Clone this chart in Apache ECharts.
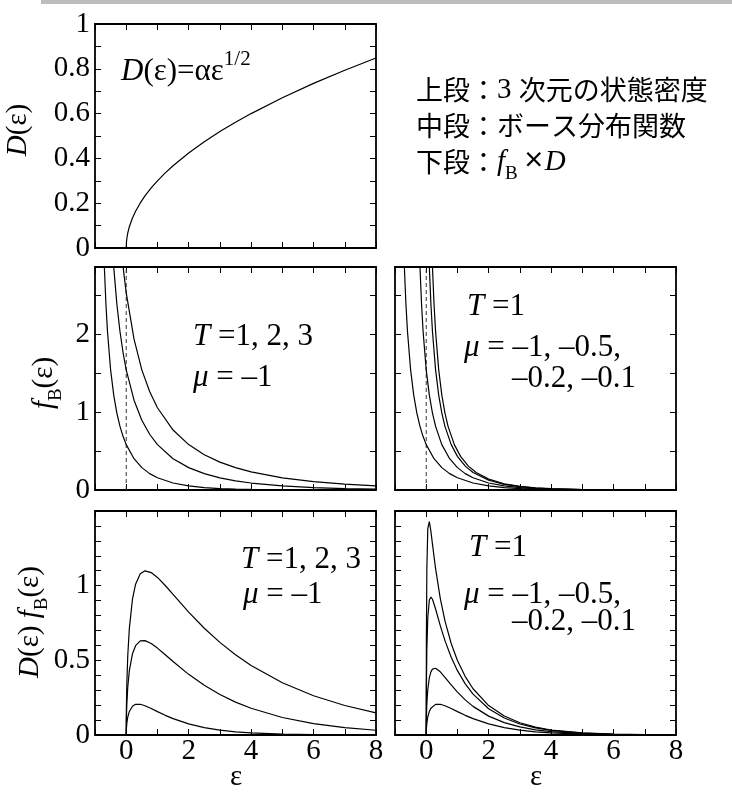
<!DOCTYPE html>
<html><head><meta charset="utf-8">
<script src="https://cdn.jsdelivr.net/npm/echarts@6/dist/echarts.min.js"></script>
<style>html,body{margin:0;padding:0;background:#fff}#c{width:732px;height:792px}</style>
</head><body><div id="c"></div>
<script>
// ---------- data ----------
// top panel: D(eps)
const epsTop = [0,0.005,0.02,0.05,0.1,0.2,0.3,0.45,0.6,0.8,1,1.25,1.5,2,2.5,3,3.5,4,5,6,7,8];
const densityD = [0,0.0212,0.0424,0.0671,0.0949,0.1342,0.1643,0.2012,0.2324,0.2683,0.3,0.3354,0.3674,0.4243,0.4743,0.5196,0.5612,0.6,0.6708,0.7348,0.7937,0.8485];

// middle-left: f_B, mu = -1, T = 1, 2, 3
const epsMid = [-0.9,-0.8,-0.75,-0.7,-0.65,-0.6,-0.5,-0.4,-0.3,-0.2,-0.1,0,0.25,0.5,0.75,1,1.5,2,2.5,3,3.5,4,5,6,7,8];
const fT1 = [9.508,4.517,3.521,2.858,2.386,2.033,1.541,1.216,0.986,0.816,0.685,0.582,0.4015,0.2872,0.2103,0.1565,0.0894,0.0524,0.0311,0.01866,0.01123,0.00678,0.00248,0.00091,0.000336,0.000123];
const fT2 = [19.50,9.508,7.510,6.179,5.229,4.517,3.521,2.858,2.386,2.033,1.760,1.541,1.1516,0.8953,0.7149,0.582,0.4015,0.2872,0.2103,0.1565,0.1178,0.0894,0.0524,0.0311,0.01866,0.01123];
const fT3 = [29.50,14.51,11.507,9.508,8.081,7.011,5.514,4.517,3.805,3.273,2.858,2.528,1.934,1.541,1.2626,1.0552,0.7687,0.582,0.4522,0.3580,0.2872,0.2329,0.1565,0.1074,0.0747,0.0524];

// middle-right: f_B, T = 1, mu = -1 (fT1 above), -0.5, -0.2, -0.1
const epsMu05 = [-0.45,-0.4,-0.35,-0.3,-0.25,-0.2,-0.15,-0.1,0,0.1,0.2,0.3,0.5,0.75,1,1.25,1.5,2,2.5,3,3.5,4,5,6,7,8];
const fMu05 = [19.50,9.508,6.179,4.517,3.521,2.858,2.386,2.033,1.541,1.216,0.986,0.816,0.582,0.4015,0.2872,0.2103,0.1565,0.0894,0.0524,0.0311,0.01866,0.01123,0.00410,0.00151,0.000553,0.000203];
const epsMu02 = [-0.15,-0.1,-0.05,0,0.05,0.1,0.15,0.2,0.3,0.4,0.5,0.6,0.8,1,1.25,1.5,2,2.5,3,3.5,4,5,6,7,8];
const fMu02 = [19.50,9.508,6.179,4.517,3.521,2.858,2.386,2.033,1.541,1.216,0.986,0.816,0.582,0.4310,0.3065,0.2235,0.1246,0.0720,0.0425,0.0254,0.01522,0.00555,0.00203,0.000747,0.000275];
const epsMu01 = [-0.05,0,0.05,0.1,0.15,0.2,0.25,0.3,0.4,0.5,0.6,0.7,0.9,1.1,1.35,1.6,2,2.5,3,3.5,4,5,6,7,8];
const fMu01 = [19.50,9.508,6.179,4.517,3.521,2.858,2.386,2.033,1.541,1.216,0.986,0.816,0.582,0.4310,0.3065,0.2235,0.1395,0.0802,0.0472,0.0281,0.01682,0.00613,0.00225,0.000826,0.000304];

// dashed guide at eps = 0
const guideX = [0,0];
const guideY = [0,2.86];

// bottom-left: D f_B, mu = -1, T = 1, 2, 3
const epsBot = [0,0.005,0.02,0.05,0.1,0.2,0.3,0.45,0.6,0.8,1,1.25,1.5,2,2.5,3,3.5,4,5,6,7,8];
const gT1 = [0,0.0408,0.0798,0.1204,0.1578,0.1927,0.2052,0.2056,0.1960,0.1771,0.1565,0.1317,0.1095,0.0741,0.0492,0.0323,0.0210,0.0136,0.00555,0.00223,0.00089,0.00035];
const gT2 = [0,0.1083,0.2126,0.3239,0.4313,0.5438,0.5982,0.6300,0.6321,0.6127,0.582,0.5374,0.4917,0.4062,0.3325,0.2711,0.2204,0.1788,0.1172,0.0762,0.0494,0.0318];
const gT3 = [0,0.1777,0.3492,0.5335,0.7140,0.9092,1.0098,1.0794,1.0994,1.0876,1.0552,1.0010,0.9415,0.8231,0.7150,0.6201,0.5373,0.4658,0.3499,0.2631,0.1976,0.1482];

// bottom-right: D f_B, T = 1, mu = -1, -0.5, -0.2, -0.1
const epsBR = [0,0.005,0.02,0.05,0.1,0.15,0.2,0.3,0.45,0.6,0.8,1,1.25,1.5,2,2.5,3,3.5,4,5,6,7,8];
const gMu1 = [0,0.0408,0.0798,0.1204,0.1578,0.1794,0.1927,0.2052,0.2056,0.1960,0.1771,0.1565,0.1317,0.1095,0.0741,0.0492,0.0323,0.0210,0.0136,0.00555,0.00223,0.00089,0.00035];
const gMu05 = [0,0.1082,0.2073,0.3050,0.3845,0.4230,0.4410,0.4469,0.4231,0.3865,0.3350,0.2872,0.2351,0.1917,0.1264,0.0829,0.0539,0.0349,0.0225,0.00917,0.0037,0.00146,0.00057];
const gMu02 = [0,0.3108,0.5747,0.7873,0.9038,0.9241,0.9092,0.8440,0.7327,0.6321,0.5206,0.4310,0.3427,0.2737,0.1762,0.1138,0.0736,0.0475,0.0304,0.0124,0.00497,0.00198,0.00078];
const gMu01 = [0,0.6387,1.1092,1.3817,1.4284,1.3637,1.2781,1.1135,0.9149,0.7638,0.6127,0.4990,0.3913,0.3099,0.1973,0.1268,0.0818,0.0526,0.0336,0.0137,0.00551,0.00219,0.00086];

// axis settings
const xMin = -1, xMax = 8;
const yMaxTop = 1, yMaxMid = 2.86, yMaxBot = 1.5;

// ---------- chart ----------
const SERIF = '"Liberation Serif","Times New Roman",serif';
const CJK = '"Noto Sans CJK JP","Noto Sans CJK SC",sans-serif';
const FS = 29;   // tick labels
const AS = 31;   // annotations

const grids = [
  {left:95, top:24, width:281, height:224},
  {left:95, top:267, width:281, height:223},
  {left:395, top:267, width:281, height:223},
  {left:95, top:511, width:281, height:224},
  {left:395, top:511, width:281, height:224}
];

const fmtX = v => (v >= 0 && Math.abs(v % 2) < 1e-9) ? String(v) : '';
const fmtTop = v => { const r = Math.round(v * 10); return r % 2 === 0 ? String(r / 10) : ''; };
const fmtMid = v => (Math.abs(v - Math.round(v)) < 1e-6 && v < 2.8) ? String(Math.round(v)) : '';
const fmtBot = v => { const r = Math.round(v * 10); return (r % 5 === 0 && r < 15) ? String(r / 10) : ''; };

const yCfg = [
  {max: yMaxTop, interval: 0.1, fmt: fmtTop, lab: true},
  {max: yMaxMid, interval: 0.5, fmt: fmtMid, lab: true},
  {max: yMaxMid, interval: 0.5, fmt: fmtMid, lab: false},
  {max: yMaxBot, interval: 0.1, fmt: fmtBot, lab: true},
  {max: yMaxBot, interval: 0.1, fmt: fmtBot, lab: false}
];
const xLab = [false, false, false, true, true];

const lineAx = {show: true, onZero: false, lineStyle: {color: '#000', width: 1.8}};
const tickAx = {show: true, inside: true, length: 6, lineStyle: {color: '#000', width: 1}};

const xAxis = [], yAxis = [];
grids.forEach((g, i) => {
  ['bottom', 'top'].forEach((pos, k) => {
    xAxis.push({
      gridIndex: i, type: 'value', min: xMin, max: xMax, interval: 1, position: pos,
      axisLine: lineAx, axisTick: tickAx, splitLine: {show: false},
      axisLabel: {show: k === 0 && xLab[i], margin: 2, color: '#000', fontFamily: SERIF, fontSize: FS, formatter: fmtX}
    });
  });
  ['left', 'right'].forEach((pos, k) => {
    const c = yCfg[i];
    yAxis.push({
      gridIndex: i, type: 'value', min: 0, max: c.max, interval: c.interval, position: pos,
      axisLine: lineAx, axisTick: tickAx, splitLine: {show: false},
      axisLabel: {show: k === 0 && c.lab, margin: 5, color: '#000', fontFamily: SERIF, fontSize: FS,
        formatter: c.fmt, showMaxLabel: c.max === 1}
    });
  });
});

function curve(gi, xs, ys, dashed) {
  return {
    type: 'line', xAxisIndex: 2 * gi, yAxisIndex: 2 * gi, clip: true,
    data: xs.map((x, j) => [x, ys[j]]), showSymbol: false, symbol: 'none', smooth: false,
    silent: true,
    lineStyle: dashed ? {color: '#333', width: 1, type: [4, 3]} : {color: '#000', width: 1.2}
  };
}

const series = [
  curve(0, epsTop, densityD),
  curve(1, guideX, guideY, true),
  curve(1, epsMid, fT1), curve(1, epsMid, fT2), curve(1, epsMid, fT3),
  curve(2, guideX, guideY, true),
  curve(2, epsMid, fT1), curve(2, epsMu05, fMu05), curve(2, epsMu02, fMu02), curve(2, epsMu01, fMu01),
  curve(3, epsBot, gT1), curve(3, epsBot, gT2), curve(3, epsBot, gT3),
  curve(4, epsBR, gMu1), curve(4, epsBR, gMu05), curve(4, epsBR, gMu02), curve(4, epsBR, gMu01)
];

// rich text sets
function richSet(fs, subFs) {
  return {
    n: {fontFamily: SERIF, fontSize: fs, lineHeight: 36, verticalAlign: 'top'},
    i: {fontFamily: SERIF, fontSize: fs, fontStyle: 'italic', lineHeight: 36, verticalAlign: 'top'},
    sub: {fontFamily: SERIF, fontSize: subFs, lineHeight: subFs, verticalAlign: 'bottom'},
    j: {fontFamily: CJK, fontSize: 27, lineHeight: 36, verticalAlign: 'top'},
    jn: {fontFamily: SERIF, fontSize: 29, lineHeight: 36, verticalAlign: 'top'},
    x: {fontFamily: CJK, fontSize: 22, fontWeight: 'bold', lineHeight: 36, verticalAlign: 'top'}
  };
}
const RA = richSet(AS, 20);   // annotations
const RN = richSet(FS, 19);   // axis names
const RJ = richSet(29, 19);   // Japanese legend block
const RS = {
  n: {fontFamily: SERIF, fontSize: AS, lineHeight: 38, verticalAlign: 'bottom'},
  i: {fontFamily: SERIF, fontSize: AS, fontStyle: 'italic', lineHeight: 38, verticalAlign: 'bottom'},
  sup: {fontFamily: SERIF, fontSize: 21, lineHeight: 21, verticalAlign: 'top'}
};
function T(x, y, text, rich, opts) {
  opts = opts || {};
  return {
    type: 'text', x: x, y: y, rotation: opts.rot || 0, silent: true,
    style: {text: text, rich: rich, fill: '#000', fontFamily: SERIF, fontSize: 28,
      align: opts.align || 'left', verticalAlign: 'middle'}
  };
}
const ROT = Math.PI / 2;
const graphic = [
  {type: 'rect', shape: {x: 41, y: 0, width: 691, height: 4}, style: {fill: '#bdbdbd'}, silent: true},
  T(121, 68, '{i|D}{n|(ε)=αε}{sup|1/2}', RS),
  T(416, 94, '{j|上段：}{jn|3 }{j|次元の状態密度}', RJ),
  T(416, 130, '{j|中段：ボース分布関数}', RJ),
  T(416, 166, '{j|下段：}{i|f}{sub|B}{x| ×}{i|D}', RJ),
  // y-axis names
  T(22, 130, '{i|D}{n|(ε)}', RN, {rot: ROT, align: 'center'}),
  T(48, 383, '{i|f}{sub|B}{n|(ε)}', RN, {rot: ROT, align: 'center'}),
  T(34, 622, '{i|D}{n|(ε) }{i|f}{sub|B}{n|(ε)}', RN, {rot: ROT, align: 'center'}),
  // x-axis names
  T(236, 781, '{n|ε}', RN, {align: 'center'}),
  T(536, 781, '{n|ε}', RN, {align: 'center'}),
  // middle-left annotation
  T(193, 339, '{i|T}{n| =1, 2, 3}', RA),
  T(193, 380, '{i|μ}{n| = –1}', RA),
  // middle-right annotation
  T(467, 309, '{i|T}{n| =1}', RA),
  T(464, 350, '{i|μ}{n| = –1, –0.5,}', RA),
  T(512, 381, '{n|–0.2, –0.1}', RA),
  // bottom-left annotation
  T(241, 562, '{i|T}{n| =1, 2, 3}', RA),
  T(243, 597, '{i|μ}{n| = –1}', RA),
  // bottom-right annotation
  T(469, 550, '{i|T}{n| =1}', RA),
  T(464, 597, '{i|μ}{n| = –1, –0.5,}', RA),
  T(512, 624, '{n|–0.2, –0.1}', RA)
];

const chart = echarts.init(document.getElementById('c'), null, {renderer: 'canvas'});
chart.setOption({
  animation: false,
  backgroundColor: '#fff',
  grid: grids,
  xAxis: xAxis,
  yAxis: yAxis,
  series: series,
  graphic: graphic
});
</script></body></html>
